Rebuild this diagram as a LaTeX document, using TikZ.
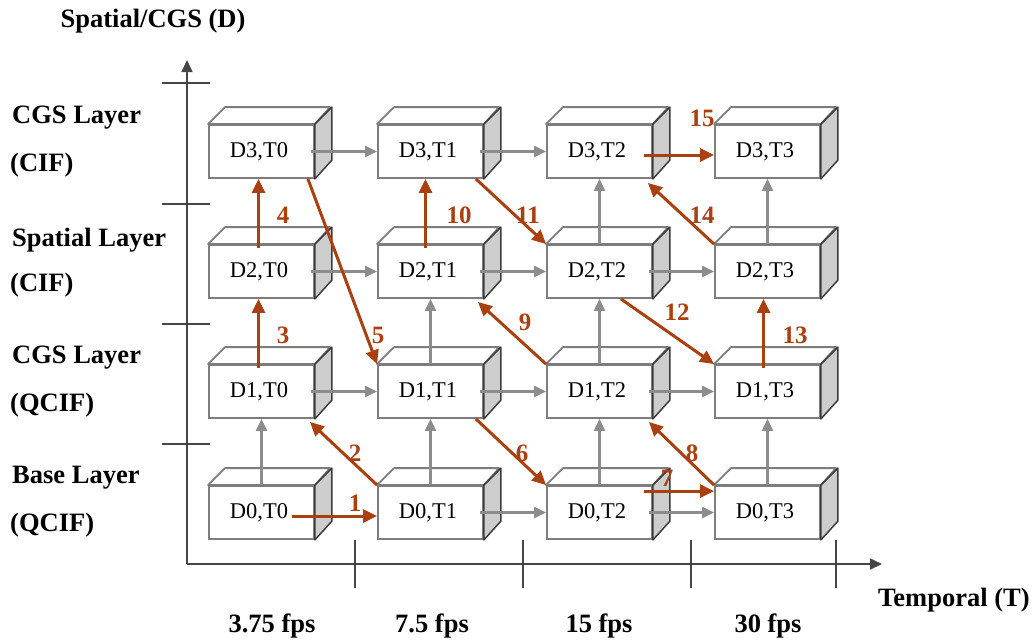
\documentclass[tikz,border=0pt]{standalone}
\usepackage{fontspec}
\setmainfont{Liberation Serif}
\usetikzlibrary{arrows.meta}
\definecolor{boxedge}{RGB}{125,125,125}
\definecolor{boxdark}{RGB}{60,60,60}
\definecolor{sidefill}{RGB}{205,205,205}
\definecolor{flowgray}{RGB}{140,140,140}
\definecolor{order}{RGB}{168,64,16}
\definecolor{axis}{RGB}{70,70,70}
\begin{document}
\begin{tikzpicture}[x=1pt,y=-1pt,
  frontface/.style={draw=boxedge,fill=white,line width=1.8pt,minimum width=105pt,
    minimum height=53pt,inner sep=0pt,font=\fontsize{22.5}{22.5}\selectfont},
  topface/.style={draw=boxedge,fill=white,line width=1.8pt,line join=round},
  sideface/.style={draw=boxdark,fill=sidefill,line width=1.5pt,line join=round},
  garrow/.style={draw=flowgray,line width=2.2pt,-{Triangle[length=12pt,width=11pt]}},
  rarrow/.style={draw=order,line width=3pt,-{Triangle[length=14pt,width=13pt]}},
  num/.style={text=order,font=\bfseries\fontsize{25}{25}\selectfont,inner sep=0pt},
  lbl/.style={font=\bfseries\fontsize{26.5}{26.5}\selectfont,inner sep=0pt},
  axisline/.style={draw=axis,line width=1.6pt},
  tick/.style={draw=axis,line width=1.4pt}]
\useasboundingbox (0,0) rectangle (1032,641);

% axes
\coordinate (origin) at (187,564);
\coordinate (ytop) at (187,60);
\coordinate (xend) at (882,564);
\draw[axisline,-{Triangle[length=12pt,width=11pt]}] (origin) -- (ytop);
\draw[axisline,-{Triangle[length=12pt,width=11pt]}] (origin) -- (xend);
\foreach \ty in {83,204,324,444} \draw[tick] (162,\ty) -- (210,\ty);
\foreach \tx in {355,523,691,836} \draw[tick] (\tx,540) -- (\tx,588);

% axis titles
\node[lbl] (dtitle) at (153,21) {Spatial/CGS (D)};
\node[lbl,anchor=west] (ttitle) at (878,600) {Temporal (T)};

% layer names
\node[lbl,anchor=west] (l3a) at (12,118) {CGS Layer};
\node[lbl,anchor=west] (l3b) at (10,165) {(CIF)};
\node[lbl,anchor=west] (l2a) at (12,240) {Spatial Layer};
\node[lbl,anchor=west] (l2b) at (10,285) {(CIF)};
\node[lbl,anchor=west] (l1a) at (12,358) {CGS Layer};
\node[lbl,anchor=west] (l1b) at (10,405) {(QCIF)};
\node[lbl,anchor=west] (l0a) at (12,478) {Base Layer};
\node[lbl,anchor=west] (l0b) at (10,525) {(QCIF)};

% frame rates
\node[lbl] (f0) at (272,626) {3.75 fps};
\node[lbl] (f1) at (432,626) {7.5 fps};
\node[lbl] (f2) at (599,626) {15 fps};
\node[lbl] (f3) at (768,626) {30 fps};

% layer boxes
\foreach \r/\y in {0/512.5,1/391.5,2/271.5,3/151.5}
  \foreach \c/\x in {0/261.5,1/430.5,2/599.5,3/767.5} {
    \node[frontface] (b\r\c) at (\x,\y) {\raisebox{-2.5pt}{\hspace*{-5pt}D\r,T\c}};
    \draw[topface] (b\r\c.north west) -- ++(17pt,17pt) -- ++(105pt,0pt)
      -- (b\r\c.north east) -- cycle;
    \draw[sideface] (b\r\c.north east) -- ++(17pt,17pt) -- ++(0pt,-53pt)
      -- (b\r\c.south east) -- cycle;
  }

% temporal prediction (gray, horizontal)
\foreach \r in {0,1,2,3}
  \foreach \c/\n in {0/1,1/2,2/3} {
    \ifnum\r\c=0 \else\ifnum\r\c=32 \else
      \draw[garrow] ([xshift=-4pt]b\r\c.east) -- (b\r\n.west);
    \fi\fi
  }

% inter-layer prediction (gray, vertical)
\foreach \c/\r/\n in {0/0/1, 1/0/1,1/1/2, 2/0/1,2/1/2,2/2/3, 3/0/1,3/2/3}
  \draw[garrow] (b\r\c.north) -- (b\n\c.south);

% decoding order
\draw[rarrow] ([shift={(-23pt,-3.5pt)}]b00.east) -- ([yshift=-3.5pt]b01.west);
\draw[rarrow] (b01.north west) -- ([shift={(-5pt,-3pt)}]b10.south east);
\draw[rarrow] ([shift={(-3pt,-4pt)}]b10.north) -- ([xshift=-3pt]b20.south);
\draw[rarrow] ([shift={(-3pt,-4pt)}]b20.north) -- ([xshift=-3pt]b30.south);
\draw[rarrow] ([xshift=-7pt]b30.south east) -- (b11.north west);
\draw[rarrow] ([xshift=-8pt]b11.south east) -- (b02.north west);
\draw[rarrow] ([shift={(-9pt,-6pt)}]b02.north east) -- ([yshift=-6pt]b03.north west);
\draw[rarrow] (b03.north west) -- ([shift={(-4pt,-3pt)}]b12.south east);
\draw[rarrow] (b12.north west) -- ([shift={(-6pt,-3pt)}]b21.south east);
\draw[rarrow] ([shift={(-5pt,-4pt)}]b21.north) -- ([xshift=-5pt]b31.south);
\draw[rarrow] ([xshift=-8pt]b31.south east) -- (b22.north west);
\draw[rarrow] ([xshift=-32pt]b22.south east) -- (b13.north west);
\draw[rarrow] ([shift={(-4pt,-4pt)}]b13.north) -- ([xshift=-4pt]b23.south);
\draw[rarrow] (b23.north west) -- ([shift={(-5pt,-4pt)}]b32.south east);
\draw[rarrow] ([shift={(-9pt,-3.5pt)}]b32.east) -- ([yshift=-3.5pt]b33.west);

% order numbers
\node[num] (n1) at (355,503) {1};
\node[num] (n2) at (355,453) {2};
\node[num] (n3) at (283,335) {3};
\node[num] (n4) at (283,215) {4};
\node[num] (n5) at (378,335) {5};
\node[num] (n6) at (522,453) {6};
\node[num] (n7) at (667,478) {7};
\node[num] (n8) at (692,453) {8};
\node[num] (n9) at (525,322) {9};
\node[num] (n10) at (459,215) {10};
\node[num] (n11) at (528,215) {11};
\node[num] (n12) at (677,312) {12};
\node[num] (n13) at (795,335) {13};
\node[num] (n14) at (702,215) {14};
\node[num] (n15) at (702,118) {15};
\end{tikzpicture}
\end{document}
